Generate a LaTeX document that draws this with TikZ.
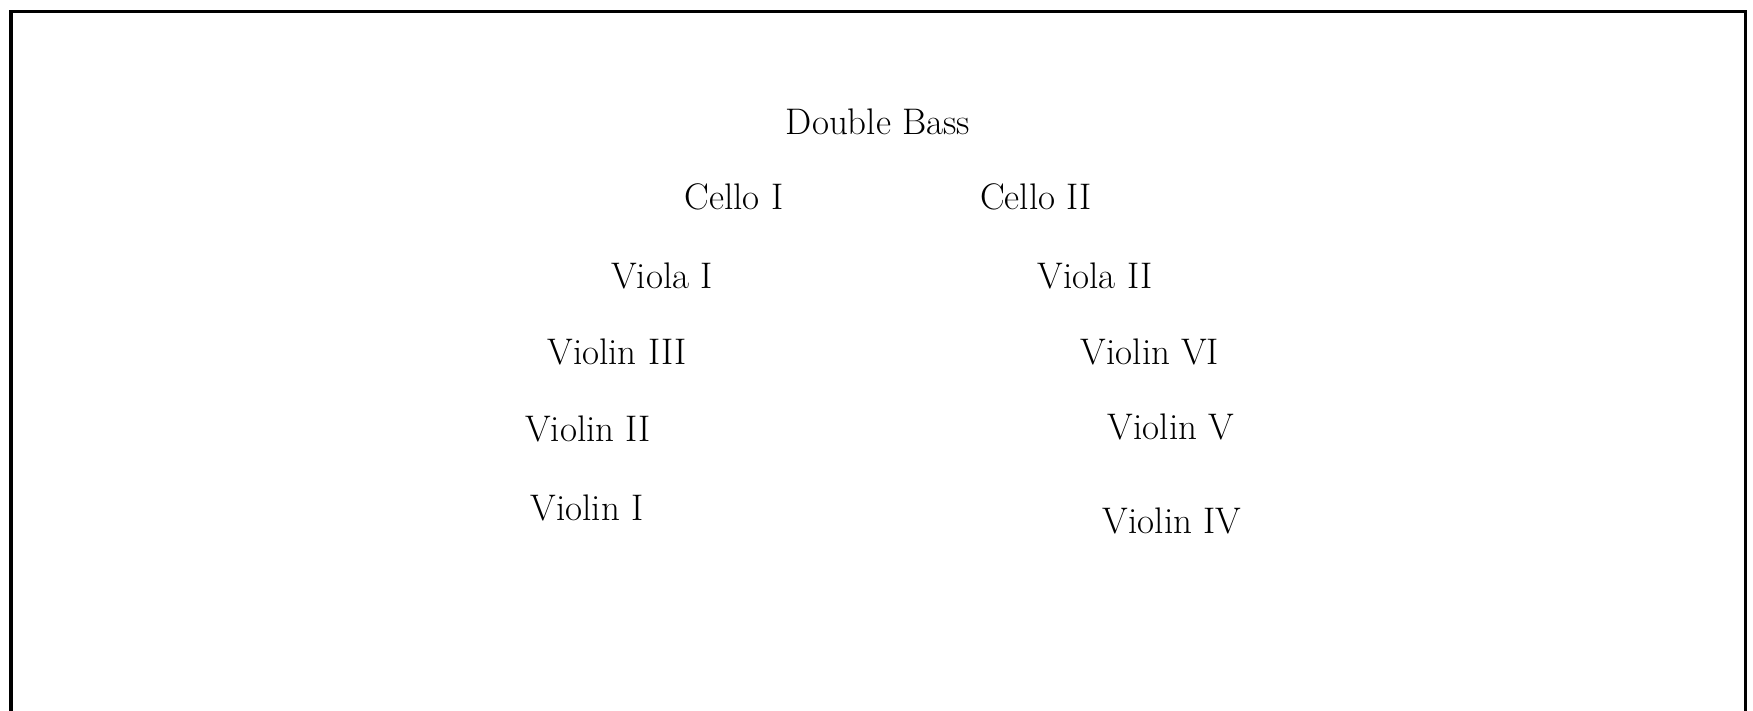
\documentclass[tikz,border=0pt]{standalone}
\begin{document}
\begin{tikzpicture}[x=1pt,y=-1pt,
  lbl/.style={font=\fontsize{37}{44}\selectfont, inner sep=0pt, anchor=base}]
\useasboundingbox (0,0) rectangle (1753,711);
\draw[line width=3.5pt] (11,713) -- (11,11.5) -- (1745.5,11.5) -- (1745.5,713);
\node[lbl] (db) at (878,135) {Double Bass};
\node[lbl] (c1) at (734,210) {Cello I};
\node[lbl] (c2) at (1036,210) {Cello II};
\node[lbl] (va1) at (662,289) {Viola I};
\node[lbl] (va2) at (1095,289) {Viola II};
\node[lbl] (v3) at (617,364) {Violin III};
\node[lbl] (v6) at (1150,364) {Violin VI};
\node[lbl] (v2) at (588,441) {Violin II};
\node[lbl] (v5) at (1171,439) {Violin V};
\node[lbl] (v1) at (587,520) {Violin I};
\node[lbl] (v4) at (1172,533) {Violin IV};
\end{tikzpicture}
\end{document}
